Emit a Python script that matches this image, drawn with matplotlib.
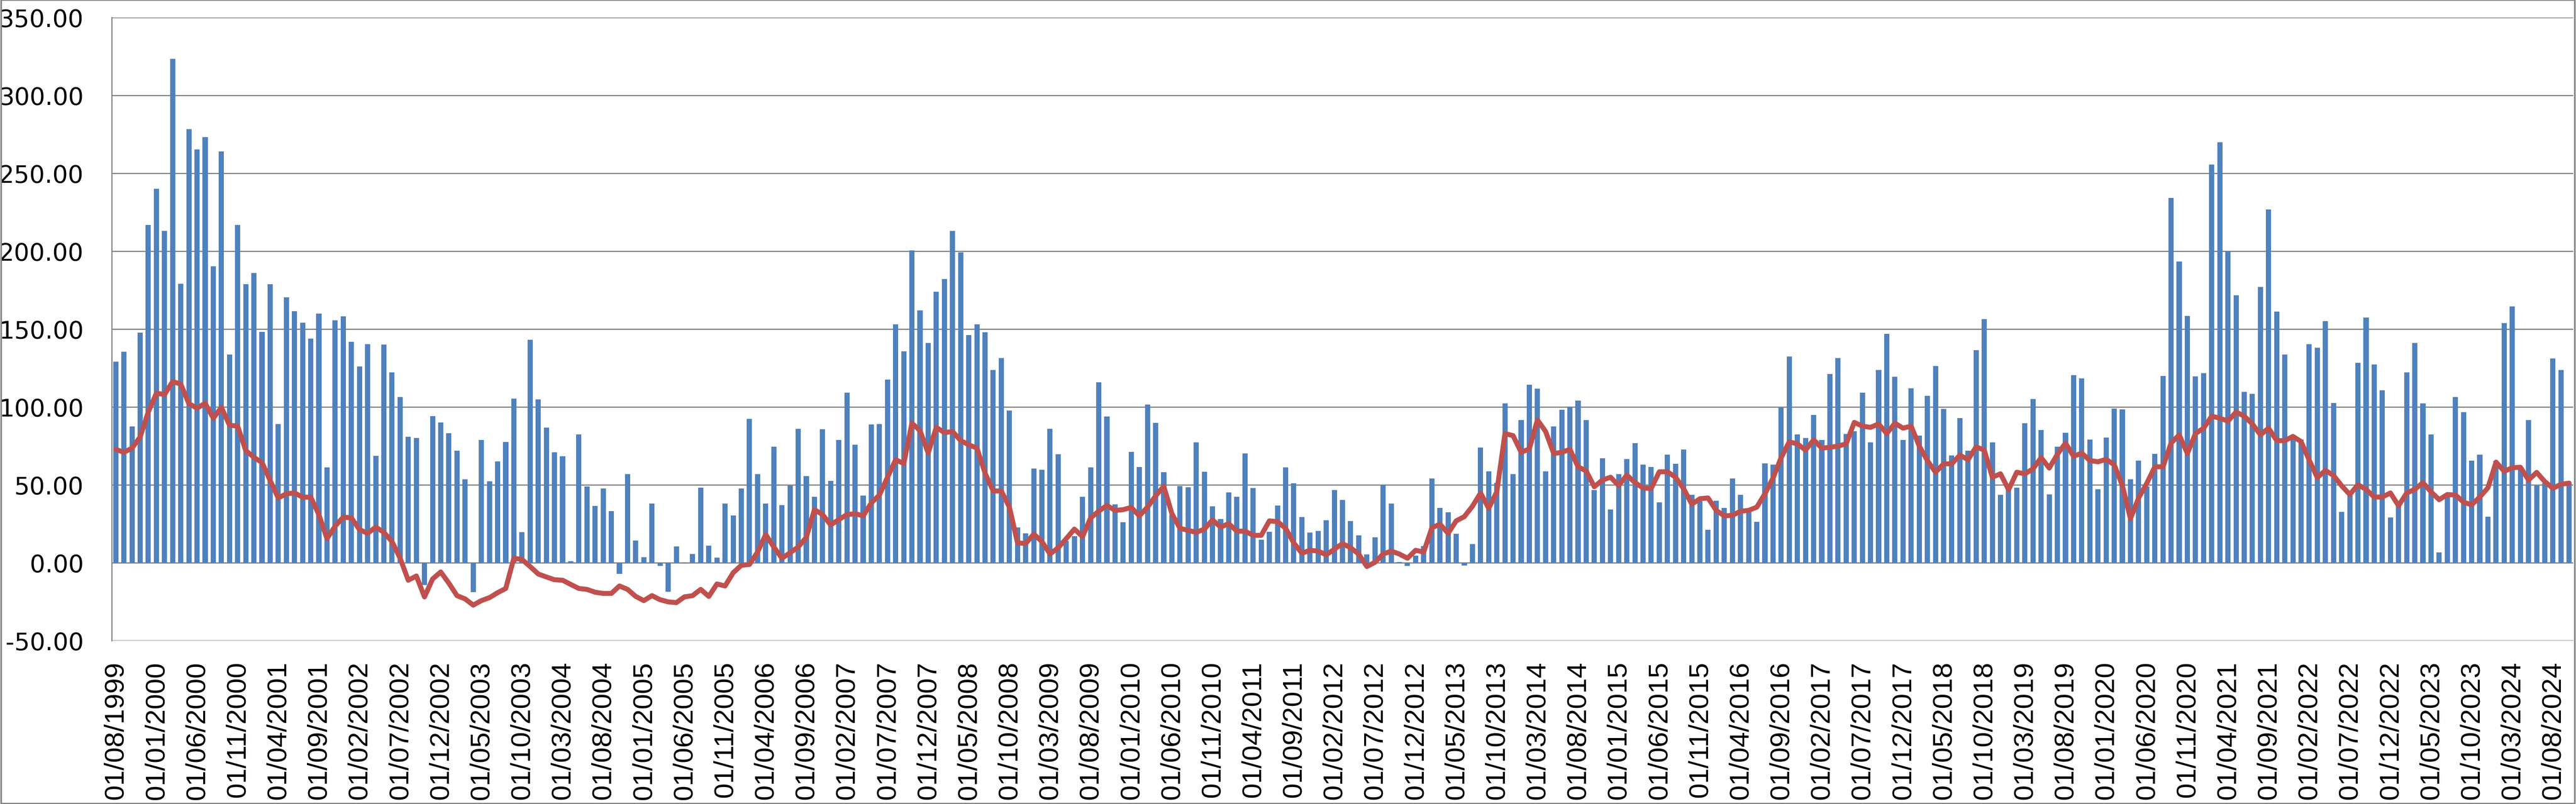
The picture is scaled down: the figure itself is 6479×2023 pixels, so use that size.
import numpy as np
import pandas as pd
import matplotlib
matplotlib.use("Agg")
import matplotlib.pyplot as plt
from matplotlib.patches import Rectangle

# ---- data -------------------------------------------------------------
start_month = "1999-08-01"
n_months = 303

bar_values = [
    129.1, 135.5, 87.5, 147.7, 216.8, 240.0, 213.1, 323.5, 179.2, 278.4, 265.3, 273.1, 190.4, 264.0, 133.6, 216.8,
    178.7, 185.9, 148.3, 178.7, 89.1, 170.4, 161.6, 154.1, 144.0, 160.0, 61.1, 155.5, 158.1, 141.9, 126.1,
    140.3, 68.5, 140.0, 122.1, 106.4, 80.8, 80.0, -14.4, 94.1, 90.1,
    83.2, 72.0, 53.6, -18.9, 78.9, 52.3, 65.1, 77.6, 105.3, 19.7,
    143.2, 104.8, 86.7, 70.9, 68.3, 1.1, 82.4, 49.1, 36.5, 47.7,
    33.1, -7.2, 56.8, 14.4, 3.5, 38.1, -2.1, -18.7, 10.4, -0.5,
    5.6, 48.3, 10.9, 3.2, 37.9, 30.4, 47.7, 92.3, 56.8, 38.1,
    74.4, 37.1, 49.6, 85.9, 55.7, 42.4, 85.6, 52.5, 78.7, 109.1, 75.7,
    43.2, 88.8, 89.1, 117.6, 153.1, 135.7, 200.5, 162.1, 141.1, 174.1,
    182.1, 213.1, 199.2, 146.1, 153.1, 148.0, 123.7, 131.5, 97.6, 22.7,
    18.9, 60.5, 59.7, 85.9, 69.6, 14.0, 17.1, 42.4, 61.1, 115.7,
    93.9, 37.6, 26.1, 71.2, 61.6, 101.6, 89.9, 58.1, 30.7, 49.3,
    48.5, 77.3, 58.4, 36.3, 28.0, 45.1, 42.4, 70.1, 48.0, 14.9,
    20.0, 36.8, 61.3, 50.9, 29.3, 19.5, 20.3, 27.2, 46.7,
    40.3, 26.9, 17.6, 5.3, 16.3, 49.9, 38.1, 0.5, -2.1, 4.5,
    10.7, 54.1, 35.2, 32.5, 18.7, -1.9, 12.0, 74.1, 58.7, 51.2,
    102.4, 56.8, 91.5, 114.4, 111.7, 58.7, 87.5, 98.1, 100.3,
    104.0, 91.7, 46.7, 67.2, 34.1, 56.8, 66.7, 76.8, 62.9, 61.6,
    38.9, 69.3, 63.5, 72.8, 43.5, 39.5, 21.3, 39.7, 35.2, 54.1,
    43.7, 32.3, 26.4, 63.7, 62.9, 99.5, 132.3, 82.4, 80.0,
    94.9, 78.9, 121.1, 131.5, 82.7, 84.5, 109.1, 77.3, 123.7, 146.9,
    119.5, 78.9, 112.0, 81.6, 107.2, 126.4, 98.7, 68.8, 92.8, 72.0,
    136.5, 156.3, 77.3, 43.5, 49.0, 48.3, 89.6, 105.1, 85.1,
    44.0, 74.4, 83.5, 120.5, 118.4, 79.2, 47.2, 80.3, 98.9, 98.4,
    53.6, 65.6, 49.1, 69.9, 120.0, 234.1, 193.3, 158.4, 119.7, 121.6,
    255.5, 269.9, 200.3, 171.7, 109.6, 108.3, 177.1, 226.7,
    161.2, 133.8, 80.1, 79.1, 140.4, 138.1, 155.2, 102.5, 32.6, 43.8,
    128.2, 157.5, 127.2, 110.7, 29.0, 37.2, 122.3, 141.1, 102.2, 82.4,
    6.6, 43.8, 106.5, 96.6, 65.6, 69.5, 29.7, 65.3, 153.9, 164.5,
    61.3, 91.6, 49.4, 51.0, 131.2, 123.6, 51.1,
]

line_values = [
    72.8, 70.9, 73.6, 80.8, 96.8, 108.8, 108.0, 116.3, 114.7, 102.1, 99.2, 102.4, 92.8, 99.7, 88.3, 87.7,
    72.0, 67.7, 64.3, 52.8, 41.6, 44.3, 44.8, 42.1, 42.1, 30.9, 15.5, 23.5, 29.3, 28.8, 21.3,
    18.9, 22.9, 19.5, 13.6, 2.9, -11.2, -8.5, -21.9, -10.4, -5.9,
    -13.1, -21.1, -23.2, -27.2, -24.3, -22.4, -19.2, -16.5, 2.9, 2.1,
    -2.4, -7.2, -9.1, -10.9, -11.2, -13.9, -16.5, -17.1, -18.9, -19.7,
    -19.7, -14.9, -17.1, -21.6, -24.3, -21.1, -23.7, -25.1, -25.6, -21.9,
    -21.1, -17.1, -21.6, -13.6, -14.9, -6.4, -1.6, -1.1, 6.9, 18.1,
    10.1, 2.9, 6.4, 10.1, 16.3, 34.1, 30.9, 24.3, 27.7, 30.9, 31.5,
    30.1, 38.4, 43.5, 54.9, 66.1, 63.7, 89.6, 84.8, 70.4, 86.9,
    83.5, 84.3, 78.4, 75.7, 73.6, 57.6, 46.1, 46.1, 35.7, 12.8,
    12.3, 18.4, 13.6, 5.6, 9.6, 15.5, 21.6, 16.8, 28.8, 33.1,
    36.8, 33.6, 34.1, 35.5, 30.1, 35.7, 42.9, 49.1, 31.5, 22.1,
    20.8, 19.5, 21.6, 27.5, 22.9, 25.1, 20.3, 20.3, 17.6, 17.6,
    26.9, 26.4, 22.1, 12.8, 6.1, 8.0, 7.5, 5.1, 8.7,
    12.3, 9.6, 5.6, -2.4, 0.3, 5.6, 7.5, 5.6, 2.9, 8.0,
    6.9, 22.4, 24.8, 18.9, 26.9, 29.6, 36.3, 44.8, 34.9, 45.6,
    82.9, 81.6, 70.9, 73.1, 91.7, 84.3, 70.1, 70.9, 72.8,
    61.6, 58.9, 48.8, 53.1, 54.9, 49.6, 56.3, 51.5, 48.0, 47.7,
    58.4, 58.4, 54.9, 47.5, 37.6, 41.1, 41.6, 33.6, 30.1, 30.4,
    33.1, 33.6, 35.7, 44.3, 54.4, 67.5, 77.6, 76.3, 72.3,
    78.9, 73.6, 74.1, 74.9, 76.3, 90.1, 87.7, 86.9, 89.1, 82.9,
    89.6, 86.4, 87.7, 74.9, 65.6, 58.1, 63.5, 63.5, 69.1, 66.1,
    74.4, 72.3, 54.9, 57.1, 46.9, 58.1, 57.1, 60.3, 67.5,
    60.8, 69.6, 76.8, 68.3, 70.4, 65.6, 64.8, 66.4, 62.9, 49.6,
    28.3, 41.6, 50.9, 61.6, 61.6, 76.8, 82.1, 70.1, 82.9, 86.4,
    94.1, 92.8, 90.9, 96.8, 94.1, 89.1, 82.1, 86.4,
    78.4, 78.4, 81.1, 77.8, 65.9, 54.7, 59.3, 56.0, 49.4, 43.8,
    50.1, 47.1, 42.2, 42.2, 44.8, 36.6, 44.8, 47.1, 51.4, 45.5,
    40.5, 43.8, 43.5, 38.9, 37.2, 42.2, 48.1, 64.6, 58.7, 61.0,
    61.3, 53.1, 58.0, 52.1, 47.8, 50.4, 51.1,
]

y_ticks = [-50, 0, 50, 100, 150, 200, 250, 300, 350]
label_every = 5

dates = pd.date_range(start_month, periods=n_months, freq="MS")
categories = [d.strftime("%d/%m/%Y") for d in dates]
assert len(bar_values) == n_months, len(bar_values)
assert len(line_values) == n_months, len(line_values)

# ---- figure -------------------------------------------------------------
W, H = 6479, 2024
fig = plt.figure(figsize=(W / 100, H / 100), dpi=100)
left, right, top, bottom = 281, 6472, 45, 1613
ax = fig.add_axes([left / W, 1 - bottom / H, (right - left) / W, (bottom - top) / H])

x = np.arange(n_months)
ax.bar(x, bar_values, width=0.64, color="#4F81BD", zorder=2)
ax.plot(x, line_values, color="#C0504D", lw=9, zorder=3,
        solid_joinstyle="round", solid_capstyle="round")

ax.set_xlim(-0.5, n_months - 0.5)
ax.set_ylim(-50, 350)
ax.set_yticks(y_ticks)
ax.set_yticklabels([f"{v:.2f}" for v in y_ticks])
ax.yaxis.grid(True, color="#868686", lw=2.2, zorder=0)
ax.set_axisbelow(True)
ax.axhline(0, color="#868686", lw=2.2, zorder=1)

for s in ("top", "right", "bottom"):
    ax.spines[s].set_visible(False)
ax.spines["left"].set_color("#868686")
ax.spines["left"].set_linewidth(2.2)

ticks = list(range(0, n_months, label_every))
ax.set_xticks(ticks)
ax.set_xticklabels([categories[i] for i in ticks], rotation=90, va="top", ha="center",
                   family=["Liberation Sans", "DejaVu Sans"], fontsize=50)
for lbl in ax.get_yticklabels():
    lbl.set_family(["DejaVu Sans"])
    lbl.set_fontsize(44)
ax.tick_params(axis="y", length=0, pad=51)
ax.tick_params(axis="x", length=0, pad=37)

fig.patches.append(Rectangle((0.0005, 0.0005), 0.999, 0.999, transform=fig.transFigure,
                             fill=False, edgecolor="#868686", lw=3))

fig.savefig("out.png", dpi=100)
